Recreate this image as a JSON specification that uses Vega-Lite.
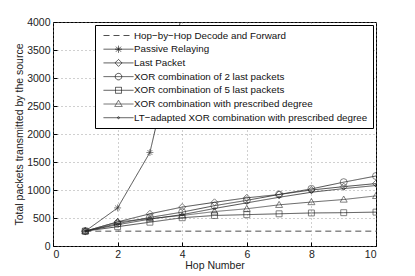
{
  "$schema": "https://vega.github.io/schema/vega-lite/v6.json",
  "autosize": "none",
  "width": 323,
  "height": 224,
  "padding": {"left": 53, "top": 22, "right": 39, "bottom": 30},
  "background": "white",
  "config": {
    "font": "Liberation Sans",
    "view": {"stroke": "black", "strokeWidth": 1},
    "axis": {
      "labelFont": "Liberation Sans", "labelFontSize": 10.5, "labelColor": "#222",
      "titleFont": "Liberation Sans", "titleFontSize": 10.5, "titleFontWeight": "normal", "titleColor": "#222",
      "domain": false, "tickColor": "black", "tickSize": -4, "labelPadding": 7,
      "grid": true, "gridColor": "#888", "gridDash": [1, 3], "gridWidth": 0.8
    }
  },
  "data": {"values": [
    {"series": "Hop\u2212by\u2212Hop Decode and Forward", "hop": 1, "value": 265},
    {"series": "Hop\u2212by\u2212Hop Decode and Forward", "hop": 10, "value": 265},
    {"series": "Passive Relaying", "hop": 1, "value": 265},
    {"series": "Passive Relaying", "hop": 2, "value": 680},
    {"series": "Passive Relaying", "hop": 3, "value": 1670},
    {"series": "Passive Relaying", "hop": 4, "value": 4150},
    {"series": "Last Packet", "hop": 1, "value": 265},
    {"series": "Last Packet", "hop": 2, "value": 430},
    {"series": "Last Packet", "hop": 3, "value": 575},
    {"series": "Last Packet", "hop": 4, "value": 695},
    {"series": "Last Packet", "hop": 5, "value": 780},
    {"series": "Last Packet", "hop": 6, "value": 860},
    {"series": "Last Packet", "hop": 7, "value": 920},
    {"series": "Last Packet", "hop": 8, "value": 1000},
    {"series": "Last Packet", "hop": 9, "value": 1060},
    {"series": "Last Packet", "hop": 10, "value": 1115},
    {"series": "XOR combination of 2 last packets", "hop": 1, "value": 265},
    {"series": "XOR combination of 2 last packets", "hop": 2, "value": 400},
    {"series": "XOR combination of 2 last packets", "hop": 3, "value": 510},
    {"series": "XOR combination of 2 last packets", "hop": 4, "value": 605},
    {"series": "XOR combination of 2 last packets", "hop": 5, "value": 720},
    {"series": "XOR combination of 2 last packets", "hop": 6, "value": 815},
    {"series": "XOR combination of 2 last packets", "hop": 7, "value": 920},
    {"series": "XOR combination of 2 last packets", "hop": 8, "value": 1020},
    {"series": "XOR combination of 2 last packets", "hop": 9, "value": 1140},
    {"series": "XOR combination of 2 last packets", "hop": 10, "value": 1250},
    {"series": "XOR combination of 5 last packets", "hop": 1, "value": 265},
    {"series": "XOR combination of 5 last packets", "hop": 2, "value": 345},
    {"series": "XOR combination of 5 last packets", "hop": 3, "value": 425},
    {"series": "XOR combination of 5 last packets", "hop": 4, "value": 505},
    {"series": "XOR combination of 5 last packets", "hop": 5, "value": 545},
    {"series": "XOR combination of 5 last packets", "hop": 6, "value": 560},
    {"series": "XOR combination of 5 last packets", "hop": 7, "value": 575},
    {"series": "XOR combination of 5 last packets", "hop": 8, "value": 590},
    {"series": "XOR combination of 5 last packets", "hop": 9, "value": 595},
    {"series": "XOR combination of 5 last packets", "hop": 10, "value": 605},
    {"series": "XOR combination with prescribed degree", "hop": 1, "value": 265},
    {"series": "XOR combination with prescribed degree", "hop": 2, "value": 430},
    {"series": "XOR combination with prescribed degree", "hop": 3, "value": 490},
    {"series": "XOR combination with prescribed degree", "hop": 4, "value": 545},
    {"series": "XOR combination with prescribed degree", "hop": 5, "value": 615},
    {"series": "XOR combination with prescribed degree", "hop": 6, "value": 665},
    {"series": "XOR combination with prescribed degree", "hop": 7, "value": 735},
    {"series": "XOR combination with prescribed degree", "hop": 8, "value": 785},
    {"series": "XOR combination with prescribed degree", "hop": 9, "value": 830},
    {"series": "XOR combination with prescribed degree", "hop": 10, "value": 895},
    {"series": "LT\u2212adapted XOR combination with prescribed degree", "hop": 1, "value": 265},
    {"series": "LT\u2212adapted XOR combination with prescribed degree", "hop": 2, "value": 380},
    {"series": "LT\u2212adapted XOR combination with prescribed degree", "hop": 3, "value": 480},
    {"series": "LT\u2212adapted XOR combination with prescribed degree", "hop": 4, "value": 560},
    {"series": "LT\u2212adapted XOR combination with prescribed degree", "hop": 5, "value": 670},
    {"series": "LT\u2212adapted XOR combination with prescribed degree", "hop": 6, "value": 770},
    {"series": "LT\u2212adapted XOR combination with prescribed degree", "hop": 7, "value": 870},
    {"series": "LT\u2212adapted XOR combination with prescribed degree", "hop": 8, "value": 960},
    {"series": "LT\u2212adapted XOR combination with prescribed degree", "hop": 9, "value": 1025},
    {"series": "LT\u2212adapted XOR combination with prescribed degree", "hop": 10, "value": 1080}
  ]},
  "encoding": {
    "x": {"field": "hop", "type": "quantitative", "title": "Hop Number",
          "scale": {"domain": [0, 10], "nice": false}, "axis": {"values": [0, 2, 4, 6, 8, 10], "titlePadding": 1}},
    "y": {"field": "value", "type": "quantitative", "title": "Total packets transmitted by the source",
          "scale": {"domain": [0, 4000], "nice": false},
          "axis": {"values": [0, 500, 1000, 1500, 2000, 2500, 3000, 3500, 4000], "format": "d", "titlePadding": 2}}
  },
  "layer": [
    {
      "mark": {"type": "line", "clip": true, "strokeWidth": 0.8},
      "encoding": {
        "stroke": {"field": "series", "type": "nominal",
          "scale": {"domain": [
            "Hop\u2212by\u2212Hop Decode and Forward", "Passive Relaying", "Last Packet",
            "XOR combination of 2 last packets", "XOR combination of 5 last packets",
            "XOR combination with prescribed degree", "LT\u2212adapted XOR combination with prescribed degree"],
            "range": ["#222", "#222", "#222", "#222", "#222", "#444", "#222"]},
          "legend": {
            "title": null, "orient": "top-right", "offset": 3, "padding": 5,
            "strokeColor": "black", "fillColor": "white",
            "labelFont": "Liberation Sans", "labelFontSize": 9.8, "labelColor": "#111", "labelLimit": 400,
            "symbolSize": 100, "symbolOffset": 13, "labelOffset": 10, "rowPadding": 2.7,
            "symbolStrokeWidth": 0.8,
            "encode": {"symbols": {"update": {
              "fill": {"value": "transparent"},
              "strokeDash": {"signal": "datum.index === 0 ? [4, 3] : [1, 0]"},
              "shape": {"signal": "datum.index === 1 ? 'M-3,0H3M-0.7,0H0.7M0,-0.7V0.7M-0.5,-0.5L0.5,0.5M-0.5,0.5L0.5,-0.5' : datum.index === 2 ? 'M-3,0H3M0,-0.7L0.7,0L0,0.7L-0.7,0Z' : datum.index === 3 ? 'M-3,0H3M-0.65,0A0.65,0.65 0 1,0 0.65,0A0.65,0.65 0 1,0 -0.65,0' : datum.index === 4 ? 'M-3,0H3M-0.6,-0.6H0.6V0.6H-0.6Z' : datum.index === 5 ? 'M-3,0H3M0,-0.75L0.75,0.5L-0.75,0.5Z' : datum.index === 6 ? 'M-3,0H3M-0.2,0A0.2,0.2 0 1,0 0.2,0A0.2,0.2 0 1,0 -0.2,0' : 'M-3,0H3'"}
            }}}
          }},
        "strokeDash": {"field": "series", "type": "nominal", "legend": null,
          "scale": {"domain": [
            "Hop\u2212by\u2212Hop Decode and Forward", "Passive Relaying", "Last Packet",
            "XOR combination of 2 last packets", "XOR combination of 5 last packets",
            "XOR combination with prescribed degree", "LT\u2212adapted XOR combination with prescribed degree"],
            "range": [[6, 4], [1, 0], [1, 0], [1, 0], [1, 0], [1, 0], [1, 0]]}}
      }
    },
    {
      "transform": [{"filter": "datum.series !== 'Hop\u2212by\u2212Hop Decode and Forward'"}],
      "mark": {"type": "point", "clip": true, "filled": false, "strokeWidth": 0.8, "size": 49, "color": "#222"},
      "encoding": {
        "shape": {"field": "series", "type": "nominal", "legend": null,
          "scale": {"domain": [
            "Passive Relaying", "Last Packet",
            "XOR combination of 2 last packets", "XOR combination of 5 last packets",
            "XOR combination with prescribed degree", "LT\u2212adapted XOR combination with prescribed degree"],
            "range": [
              "M-1,0H1M0,-1V1M-0.7,-0.7L0.7,0.7M-0.7,0.7L0.7,-0.7",
              "M0,-1L1,0L0,1L-1,0Z",
              "circle",
              "M-0.85,-0.85H0.85V0.85H-0.85Z",
              "M0,-1L1,0.75L-1,0.75Z",
              "M-0.35,0A0.35,0.35 0 1,0 0.35,0A0.35,0.35 0 1,0 -0.35,0"
            ]}}
      }
    }
  ]
}
